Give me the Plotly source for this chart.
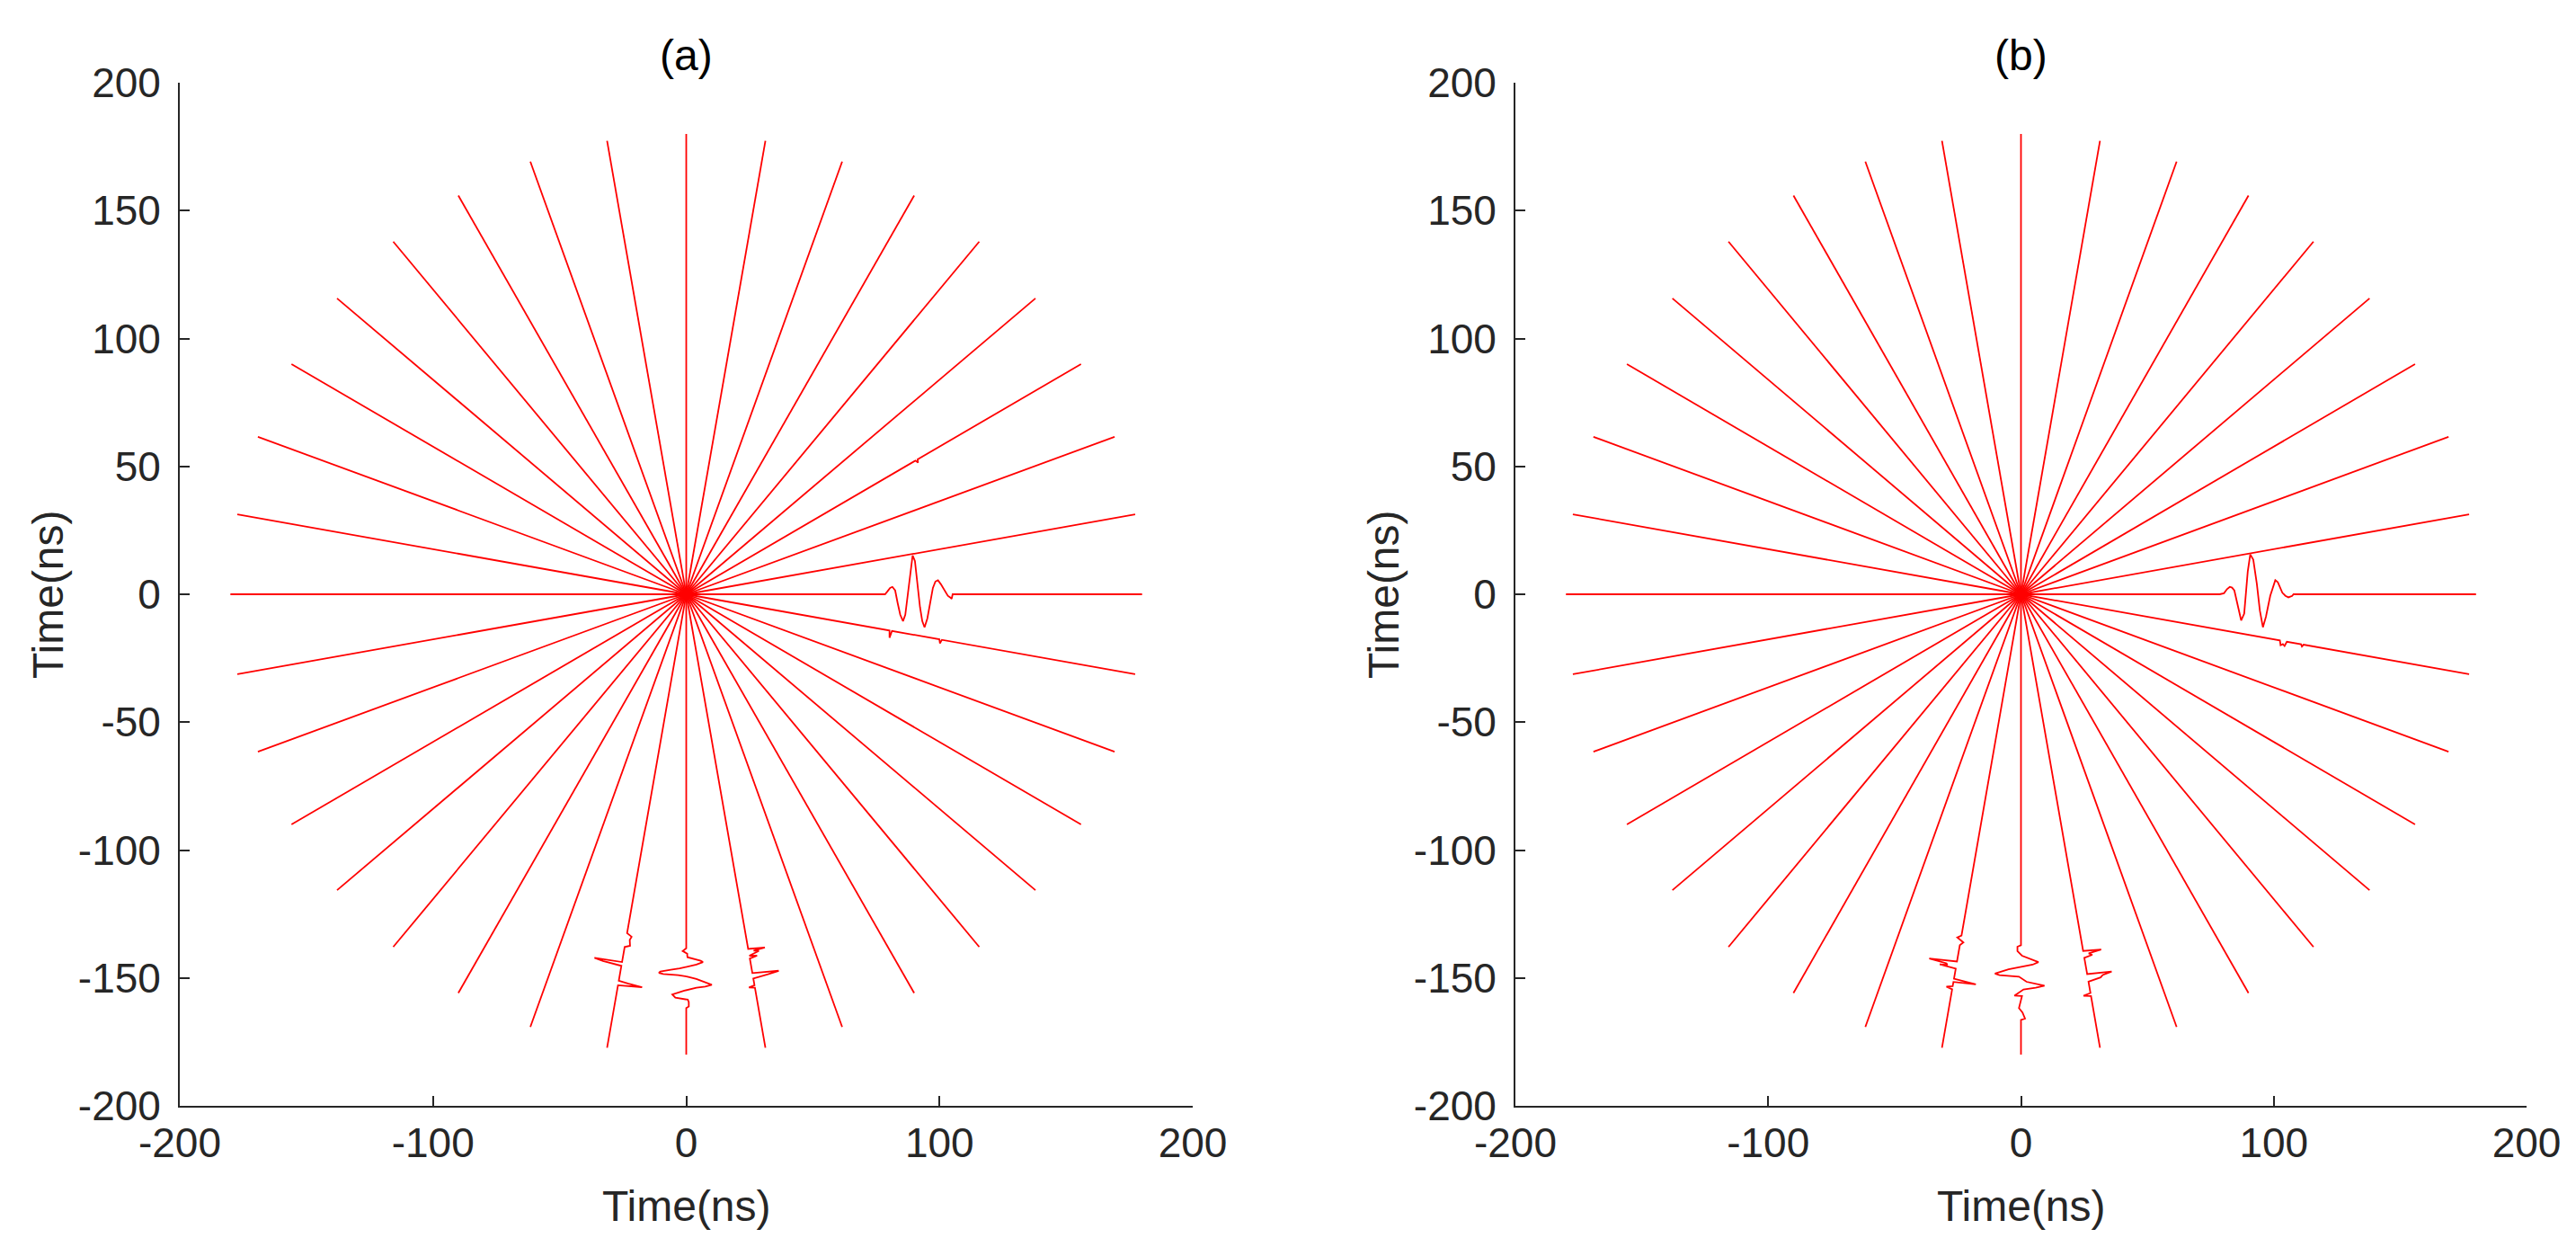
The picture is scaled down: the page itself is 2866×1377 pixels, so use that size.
import numpy as np
import plotly.graph_objects as go

# ---------------- data ----------------
RAY_ANGLES_DEG = list(range(0, 360, 10))
RAY_LENGTH = 180.0

X_TICKS = [-200, -100, 0, 100, 200]
Y_TICKS = [-200, -150, -100, -50, 0, 50, 100, 150, 200]
X_TICK_TEXT = ["-200", "-100", "0", "100", "200"]
Y_TICK_TEXT = ["-200", "-150", "-100", "-50", "0", "50", "100", "150", "200"]
PANEL_TITLES = ["(a)", "(b)"]
AXIS_LABEL = "Time(ns)"

# Panel (a) wiggles: radial position r and perpendicular amplitude along a ray
A_R_000 = [78.5, 79.5, 80.5, 81.4, 82.5, 83.5, 84.5, 85.6, 86.5, 87.5, 88.5, 89.4, 90.3, 91.3,
           92.3, 93.2, 94.1, 95.2, 96.3, 97.4, 98.4, 99.4, 100.5, 101.5, 102.5, 103.3, 104.2,
           104.8, 105.2]
A_AMP_000 = [0, 1.2, 2.5, 2.9, 1.5, -3.5, -8, -10.5, -8, 0, 9, 15.2, 13, 4,
             -5, -10.5, -12.9, -9.5, -3, 2.5, 5, 5.5, 4, 2.5, 1, -0.6, -1.2,
             -1.8, 0]
A_R_030 = [104.5, 105.0, 105.5]
A_AMP_030 = [0, -1.2, 0]
A_R_350 = [81.5, 82.0, 82.5, 101.5, 102.0, 102.5]
A_AMP_350 = [0, -2.8, 0, 0, -1.5, 0]
A_R_270 = [138.4, 139.5, 140.5, 141.3, 141.9, 143.3, 143.8, 144.8, 145.4, 146.3, 146.8, 147.5,
           148.0, 148.5, 148.9, 149.5, 150.4, 151.3, 152.2, 152.7, 153.4, 153.8, 155.0, 156.0,
           156.5, 157.7, 158.5, 159.5, 161.2, 161.8]
A_AMP_270 = [0, -1.4, 0.4, 0.4, 0.5, 5.7, 6.6, 4.0, 1.6, -2.6, -6.1, -10.2,
             -10.8, -9.1, -3.2, 0.5, 4.0, 6.3, 8.7, 10.1, 7.5, 4.0, -0.8, -4.3,
             -5.5, -4.3, 0.6, 1.0, 1.0, 0]
A_R_260 = [134.5, 135.6, 137.0, 139.2, 140.0, 146.0, 146.3, 146.9, 147.5, 153.4, 153.9, 154.3,
           154.7, 155.2]
A_AMP_260 = [0, 2.0, 1.5, 2.0, 0, 0, -11.0, -7.5, 0, 0, 4.0, 9.5,
             6.0, 0]
A_R_280 = [140.8, 141.4, 141.8, 142.3, 143.5, 144.0, 144.6, 150.4, 150.9, 151.3, 151.9, 152.5,
           155.2, 155.7, 156.2]
A_AMP_280 = [0, 6.6, 2.0, 4.0, 0, 3.0, 0, 0, 6.0, 10.4, 6.0, 0,
             0, -2.3, 0]

# Panel (b) wiggles
B_R_000 = [78.6, 80.3, 81.5, 82.6, 83.5, 84.4, 85.6, 87.1, 88.3, 89.7, 90.7, 91.9, 93.3, 94.5,
           95.7, 96.9, 98.6, 100.6, 101.6, 103.4, 104.6, 105.8, 107.3, 107.8]
B_AMP_000 = [0, 0.4, 2.0, 2.9, 2.6, 1.5, -4.1, -10.2, -7.6, 8.8, 15.6, 13.5, 4.1, -6.4,
             -12.9, -8.8, -0.6, 5.5, 4.7, 0.6, -0.6, -1.2, -0.6, 0]
B_R_350 = [104.0, 104.6, 105.4, 106.2, 106.8, 112.5, 113.0, 113.5]
B_AMP_350 = [0, -1.8, -1.2, -1.8, 0, 0, -0.8, 0]
B_R_270 = [137.2, 137.8, 139.5, 141.3, 142.9, 143.8, 144.8, 145.4, 146.6, 148.3, 148.9, 149.5,
           150.7, 151.5, 153.0, 153.8, 154.5, 156.9, 157.1, 161.8, 163.5, 165.9, 166.4]
B_AMP_270 = [0, -1.4, -1.4, 0.4, 5.0, 6.9, 4.6, 1.0, -4.9, -10.3, -8.5, -0.8,
             1.0, 2.2, 9.3, 5.8, 1.0, -2.6, 0.4, -0.8, 0.6, 1.6, 0]
B_R_260 = [135.5, 136.5, 138.0, 139.3, 145.8, 146.5, 147.2, 147.7, 148.1, 148.6, 152.6, 153.3,
           153.9, 155.6, 156.2, 156.8]
B_AMP_260 = [0, -1.5, 1.2, 0, 0, -11.0, -4.0, -3.5, -6.5, 0, 0, 8.9,
             0, 0, -2.4, 0]
B_R_280 = [141.6, 142.3, 142.9, 143.7, 144.3, 150.8, 151.5, 152.2, 153.0, 153.8, 158.3, 158.9,
           159.5]
B_AMP_280 = [0, 7.1, 2.0, 3.3, 0, 0, 9.7, 6.0, 5.0, 0, 0, -2.9, 0]

PANEL_WIGGLES = [
    {0: (A_R_000, A_AMP_000), 30: (A_R_030, A_AMP_030), 350: (A_R_350, A_AMP_350),
     270: (A_R_270, A_AMP_270), 260: (A_R_260, A_AMP_260), 280: (A_R_280, A_AMP_280)},
    {0: (B_R_000, B_AMP_000), 350: (B_R_350, B_AMP_350),
     270: (B_R_270, B_AMP_270), 260: (B_R_260, B_AMP_260), 280: (B_R_280, B_AMP_280)},
]

# ---------------- build ----------------
W, H = 2866, 1377
X_DOMAINS = [(192 / W, 1319 / W), (1678 / W, 2803 / W)]
Y_DOMAIN = (1 - 1222 / H, 1 - 84 / H)

AX_COLOR = "#262626"
FONT = "Liberation Sans, Arial, Helvetica, sans-serif"
RED = "#FF0000"


def ray_xy(theta_deg, wiggle):
    th = np.deg2rad(theta_deg)
    if wiggle is None:
        r = np.array([0.0, RAY_LENGTH])
        a = np.zeros(2)
    else:
        wr, wa = wiggle
        r = np.concatenate([[0.0], np.asarray(wr, float), [RAY_LENGTH]])
        a = np.concatenate([[0.0], np.asarray(wa, float), [0.0]])
    x = r * np.cos(th) - a * np.sin(th)
    y = r * np.sin(th) + a * np.cos(th)
    return x, y


fig = go.Figure()
for p in range(2):
    xs, ys = [], []
    for ang in RAY_ANGLES_DEG:
        x, y = ray_xy(ang, PANEL_WIGGLES[p].get(ang))
        xs.extend(x.tolist() + [None])
        ys.extend(y.tolist() + [None])
    sfx = "" if p == 0 else "2"
    fig.add_trace(go.Scatter(x=xs, y=ys, mode="lines",
                             line=dict(color=RED, width=1.8),
                             xaxis="x" + sfx, yaxis="y" + sfx,
                             showlegend=False, hoverinfo="skip"))

axis_common = dict(showline=True, linecolor=AX_COLOR, linewidth=1.7,
                   ticks="inside", ticklen=11, tickwidth=1.5, tickcolor=AX_COLOR,
                   showgrid=False, zeroline=False, mirror=False, automargin=False,
                   tickfont=dict(family=FONT, size=46, color=AX_COLOR))

layout = dict(width=W, height=H, margin=dict(l=0, r=0, t=0, b=0),
              paper_bgcolor="white", plot_bgcolor="white", showlegend=False)
for p in range(2):
    sfx = "" if p == 0 else "2"
    layout["xaxis" + sfx] = dict(axis_common, domain=list(X_DOMAINS[p]), range=[-200, 200],
                                 tickmode="array", tickvals=X_TICKS, ticktext=X_TICK_TEXT,
                                 anchor="y" + sfx, ticklabelstandoff=0)
    layout["yaxis" + sfx] = dict(axis_common, domain=list(Y_DOMAIN), range=[-200, 200],
                                 tickmode="array", tickvals=Y_TICKS, ticktext=Y_TICK_TEXT,
                                 anchor="x" + sfx, ticklabelstandoff=10)
fig.update_layout(**layout)

annos = []
for p in range(2):
    cx = (X_DOMAINS[p][0] + X_DOMAINS[p][1]) / 2
    annos.append(dict(text=PANEL_TITLES[p], x=cx, y=1 - 54 / H, xref="paper", yref="paper",
                      xanchor="center", yanchor="middle", showarrow=False,
                      font=dict(family=FONT, size=48, color="black")))
    annos.append(dict(text=AXIS_LABEL, x=cx, y=1 - 1333 / H, xref="paper", yref="paper",
                      xanchor="center", yanchor="middle", showarrow=False,
                      font=dict(family=FONT, size=48, color=AX_COLOR)))
    lx = (X_DOMAINS[p][0] * W - 147) / W
    annos.append(dict(text=AXIS_LABEL, x=lx, y=(Y_DOMAIN[0] + Y_DOMAIN[1]) / 2,
                      xref="paper", yref="paper", xanchor="center", yanchor="middle",
                      showarrow=False, textangle=-90,
                      font=dict(family=FONT, size=48, color=AX_COLOR)))
fig.update_layout(annotations=annos)

fig.write_html("out.html")
